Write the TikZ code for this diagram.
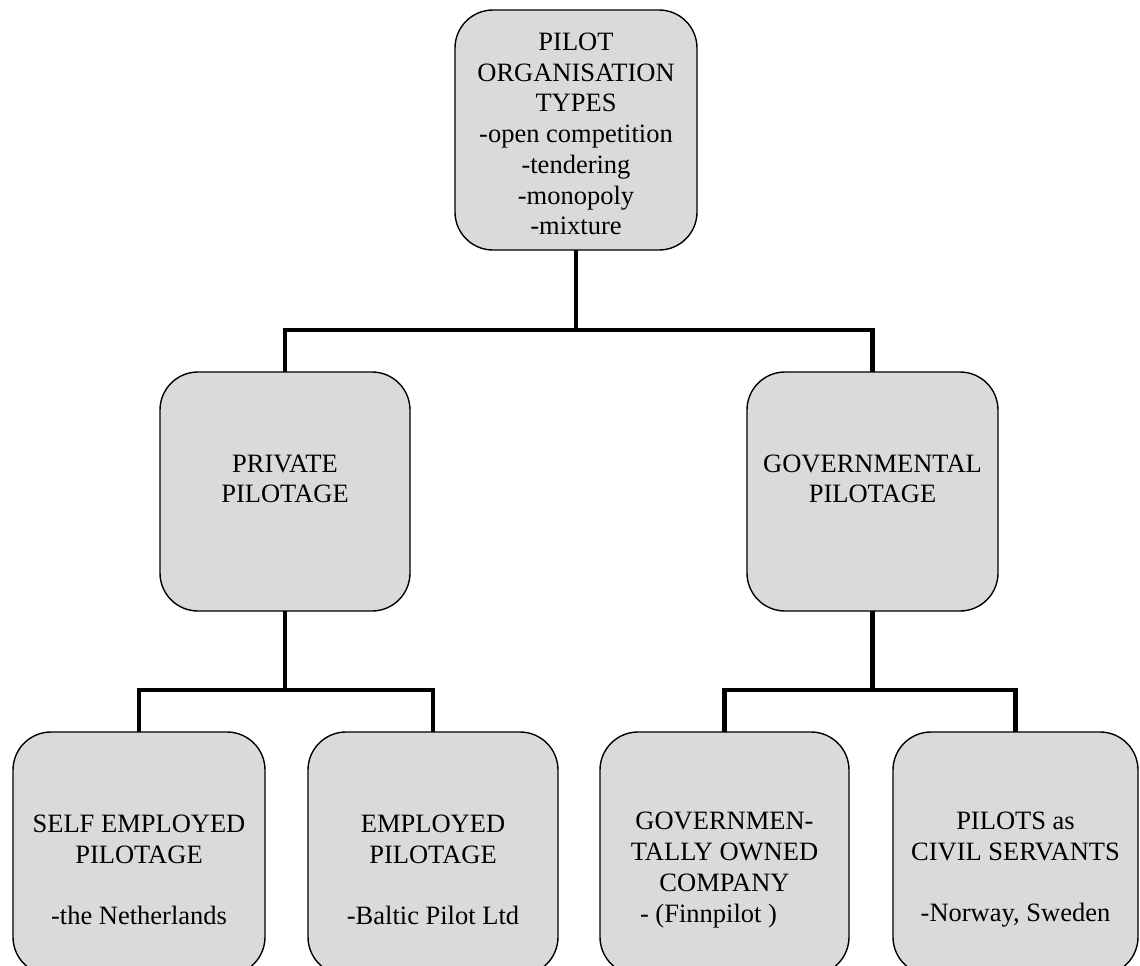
\documentclass[tikz,border=0pt]{standalone}
\usepackage{fontspec}
\setmainfont{Liberation Serif}
\definecolor{boxfill}{RGB}{218,218,218}
\begin{document}
\begin{tikzpicture}[x=1pt,y=-1pt,
  box/.style={draw=black, line width=1.4pt, fill=boxfill, rounded corners=38pt,
    rectangle, inner sep=0pt, outer sep=0pt},
  txt/.style={align=center, inner sep=0pt, font=\fontsize{26.5}{30.7}\selectfont},
  conn/.style={line width=4.6pt, line join=miter}]
\useasboundingbox (0,0) rectangle (1140,966);
\clip (0,0) rectangle (1140,966);
\fill[white] (0,0) rectangle (1140,966);
% boxes
\node[box, minimum width=242, minimum height=240] (top) at (576,130) {};
\node[box, minimum width=250, minimum height=239] (pp) at (285,491.5) {};
\node[box, minimum width=251, minimum height=239] (gp) at (872.5,491.5) {};
\node[box, minimum width=252, minimum height=243] (b1) at (139,853.5) {};
\node[box, minimum width=250, minimum height=243] (b2) at (433,853.5) {};
\node[box, minimum width=249, minimum height=243] (b3) at (724.5,853.5) {};
\node[box, minimum width=245, minimum height=243] (b4) at (1015.5,853.5) {};
% texts
\node[txt] (ttop) at (576,134) {PILOT\\ORGANISATION\\TYPES\\-open competition\\-tendering\\-monopoly\\-mixture};
\node[txt] (tpp) at (285,479) {PRIVATE\\PILOTAGE};
\node[txt] (tgp) at (872.5,479) {GOVERNMENTAL\\PILOTAGE};
\node[txt] (tb1) at (139,870) {SELF EMPLOYED\\PILOTAGE\\[30.7pt]-the Netherlands};
\node[txt] (tb2) at (433,870) {EMPLOYED\\PILOTAGE\\[30.7pt]-Baltic Pilot Ltd};
\node[txt] (tb3) at (724.5,870) {GOVERNMEN-\\TALLY OWNED\\COMPANY\\\makebox[169pt][l]{- (Finnpilot )}};
\node[txt] (tb4) at (1015.5,870) {PILOTS as\\CIVIL SERVANTS\\[30.7pt]-Norway, Sweden};
% junctions
\coordinate (j0) at (top.south |- 0,330);
\coordinate (j1) at (pp.south |- 0,690);
\coordinate (j2) at (gp.south |- 0,690);
% connectors
\draw[conn] (top.south) -- (j0);
\draw[conn] (pp.north) |- (j0) -| (gp.north);
\draw[conn] (pp.south) -- (j1);
\draw[conn] (b1.north) |- (j1) -| (b2.north);
\draw[conn] (gp.south) -- (j2);
\draw[conn] (b3.north) |- (j2) -| (b4.north);
\end{tikzpicture}
\end{document}
